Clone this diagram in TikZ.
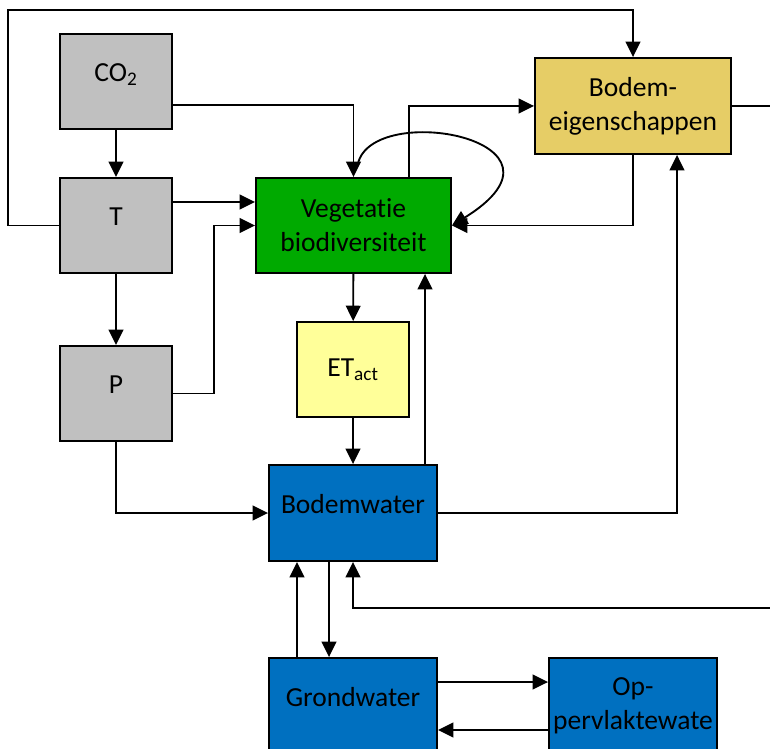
\documentclass[tikz,border=0pt]{standalone}
\usepackage{tikz}
\usetikzlibrary{arrows.meta,positioning,calc}
\usepackage{xcolor}
\usepackage{fontspec}
\setmainfont[Ligatures=NoCommon]{Carlito}
\definecolor{klimaat}{HTML}{C0C0C0}
\definecolor{vegetatie}{HTML}{00AA00}
\definecolor{bodem}{HTML}{E6CD66}
\definecolor{verdamping}{HTML}{FFFF99}
\definecolor{water}{HTML}{0070C0}

\begin{document}
\begin{tikzpicture}[
  block/.style={rectangle, draw, line width=1.6pt, inner sep=0pt, align=center,
    font=\fontsize{23.5}{29}\selectfont},
  small/.style={block, minimum width=3.36cm, minimum height=2.85cm},
  wide/.style={block, minimum width=5.04cm, minimum height=2.88cm},
  uptext/.style={text height=0.6cm, text depth=0.6cm},
  arr/.style={-{Triangle[length=4.6mm, width=4.4mm]}, line width=1.6pt},
  line/.style={line width=1.6pt}
]
  \useasboundingbox (0,0) rectangle (23.1,-22.47);
  \clip (0,0) rectangle (23.1,-22.47);

  \node[small, uptext, fill=klimaat] (co2) at (3.48,-2.445) {CO\textsubscript{2}};
  \node[small, uptext, fill=klimaat] (temp) at (3.48,-6.765) {T};
  \node[small, uptext, fill=klimaat] (prec) at (3.48,-11.805) {P};
  \node[block, fill=vegetatie, minimum width=5.85cm, minimum height=2.85cm] (veg) at (10.605,-6.765) {Vegetatie\\biodiversiteit};
  \node[block, fill=bodem, minimum width=5.88cm, minimum height=2.88cm] (bodem) at (18.99,-3.18) {Bodem-\\eigenschappen};
  \node[small, fill=verdamping] (et) at (10.59,-11.085) {ET\textsubscript{act}};
  \node[wide, uptext, fill=water] (bw) at (10.59,-15.39) {Bodemwater};
  \node[wide, uptext, fill=water] (gw) at (10.59,-21.18) {Grondwater};
  \node[wide, fill=water] (opp) at (18.99,-21.18) {Op-\\pervlaktewate};

  \coordinate (bodemout) at (23.4,-3.18);
  \coordinate (bwin) at (23.4,-18.24);

  \draw[arr] (co2) -- (temp);
  \draw[arr] (temp) -- (prec);
  \draw[arr] (temp.west) -| (0.24,-0.3) -| (bodem.north);
  \draw[arr] ([yshift=-0.705cm]co2.east) -| (veg.north);
  \draw[arr] ([yshift=0.705cm]temp.east) -- ([yshift=0.705cm]veg.west);
  \draw[arr] (prec.east) -- ++(1.23,0) |- (veg.west);
  \draw[arr] (prec.south) |- (bw.west);
  \draw[arr] ([xshift=1.665cm]veg.north) |- (bodem.west);
  \draw[arr] ([xshift=0.13cm,yshift=0.39cm]veg.north) .. controls (11.16,-3.0) and (17.7,-4.2) .. (veg.east);
  \draw[arr] (bodem.south) |- (veg.east);
  \draw[arr] (veg) -- (et);
  \draw[arr] (et) -- (bw);
  \draw[arr] ([xshift=2.16cm]bw.north) -- ([xshift=2.16cm]bw.north |- veg.south);
  \draw[arr] (bw.east) -| ([xshift=1.32cm]bodem.south);
  \draw[line] (bodem.east) -- (bodemout);
  \draw[arr] (bwin) -| (bw.south);
  \draw[arr] ([xshift=-1.68cm]gw.north) -- ([xshift=-1.68cm]bw.south);
  \draw[arr] ([xshift=-0.72cm]bw.south) -- ([xshift=-0.72cm]gw.north);
  \draw[arr] ([yshift=0.72cm]gw.east) -- ([yshift=0.72cm]opp.west);
  \draw[arr] ([yshift=-0.72cm]opp.west) -- ([yshift=-0.72cm]gw.east);
\end{tikzpicture}
\end{document}
